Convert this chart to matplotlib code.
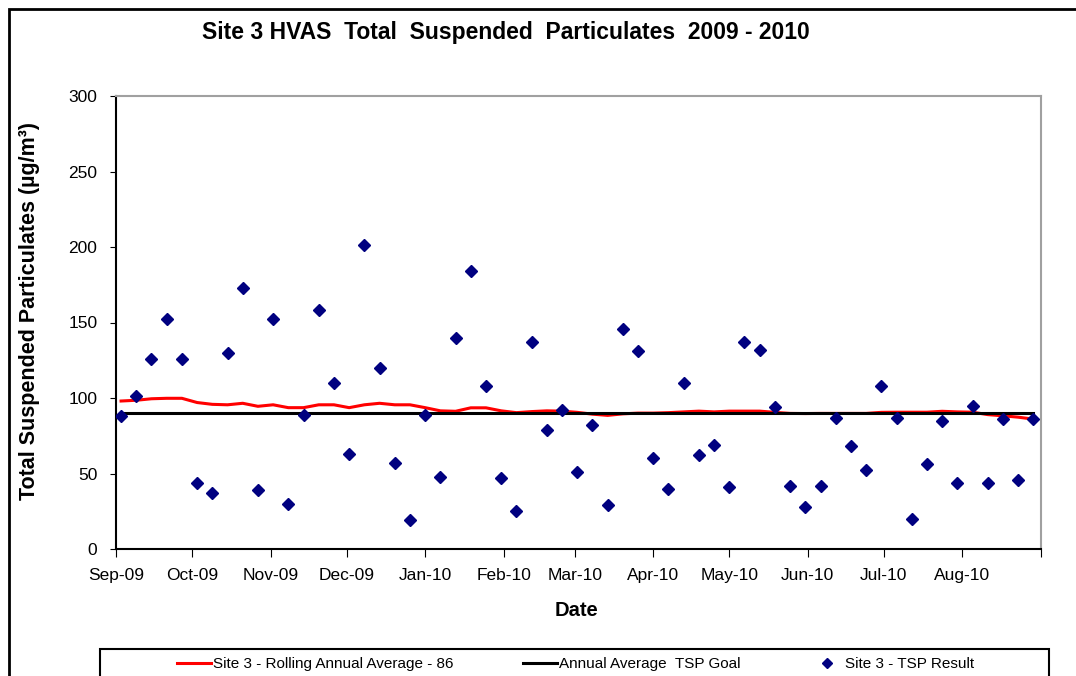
import pandas as pd
import matplotlib
matplotlib.use('Agg')
import matplotlib.pyplot as plt
from matplotlib.lines import Line2D
from matplotlib.patches import Rectangle

plt.rcParams['font.family'] = ['Liberation Sans', 'DejaVu Sans']

# HVAS samples run on a 6-day cycle, first sample 3 Sep 2009
dates = pd.date_range('2009-09-03', periods=61, freq='6D')

tsp = [88, 101, 126, 152, 126, 44, 37, 130, 173, 39, 152, 30, 89, 158, 110,
       63, 201, 120, 57, 19, 89, 48, 140, 184, 108, 47, 25, 137, 79, 92, 51,
       82, 29, 146, 131, 60, 40, 110, 62, 69, 41, 137, 132, 94, 42, 28, 42,
       87, 68, 52, 108, 87, 20, 56, 85, 44, 95, 44, 86, 46, 86]

rolling = [98, 98.5, 99.5, 99.8, 99.8, 97, 95.8, 95.5, 96.5, 94.5, 95.5, 93.6,
           93.6, 95.5, 95.5, 93.6, 95.5, 96.5, 95.5, 95.5, 93.6, 91.5, 91.2,
           93.5, 93.5, 91.5, 90.3, 91, 91.5, 91.3, 90.5, 89.3, 88.5, 89.5, 90,
           90, 90.3, 90.8, 91.3, 90.8, 91.3, 91.3, 91.3, 90.5, 89.8, 89.7, 89.8,
           89.8, 89.8, 89.8, 90.5, 90.6, 90.6, 90.6, 91.2, 90.8, 90.6, 89, 88.2,
           87.3, 86]

goal = [90] * len(dates)

month_ticks = pd.date_range('2009-09-01', '2010-09-01', freq='MS')
month_labels = ['Sep-09', 'Oct-09', 'Nov-09', 'Dec-09', 'Jan-10', 'Feb-10',
                'Mar-10', 'Apr-10', 'May-10', 'Jun-10', 'Jul-10', 'Aug-10', '']

W, H = 1076, 676
fig = plt.figure(figsize=(W / 100, H / 100), dpi=100)
ax = fig.add_axes([116 / W, 1 - 549 / H, 925 / W, 453 / H])

ax.plot(dates, rolling, color='#ff0000', lw=2.2, zorder=2)
ax.plot(dates, goal, color='black', lw=2.2, zorder=3)
ax.plot(dates, tsp, ls='none', marker='D', ms=5.8, color='#000080', zorder=4)

ax.set_xlim(month_ticks[0], month_ticks[-1])
ax.set_ylim(0, 300)
ax.set_yticks(range(0, 301, 50))
ax.set_xticks(month_ticks)
ax.set_xticklabels(month_labels)

ax.tick_params(axis='both', labelsize=12.5, direction='out', color='black')
ax.tick_params(axis='x', length=6, pad=8)
ax.tick_params(axis='y', length=4.5, pad=9)

for s in ['top', 'right']:
    ax.spines[s].set_color('#a0a0a0')
    ax.spines[s].set_linewidth(1.5)
for s in ['left', 'bottom']:
    ax.spines[s].set_color('black')
    ax.spines[s].set_linewidth(1.5)

fig.text(506 / W, 1 - 33 / H, 'Site 3 HVAS  Total  Suspended  Particulates  2009 - 2010',
         ha='center', va='center', fontsize=16.5, fontweight='bold')
fig.text(30 / W, 1 - 311 / H, 'Total Suspended Particulates (µg/m³)', rotation=90,
         ha='center', va='center', fontsize=15.5, fontweight='bold')
fig.text(577 / W, 1 - 611 / H, 'Date', ha='center', va='center',
         fontsize=14.5, fontweight='bold')

handles = [Line2D([], [], color='#ff0000', lw=2.2),
           Line2D([], [], color='black', lw=2.2),
           Line2D([], [], ls='none', marker='D', ms=5.5, color='#000080')]
labels = ['Site 3 - Rolling Annual Average - 86', 'Annual Average  TSP Goal',
          'Site 3 - TSP Result']
fig.legend(handles, labels, loc='center', bbox_to_anchor=(576 / W, 1 - 664 / H),
           ncol=3, frameon=False, fontsize=11, handlelength=2.2,
           handletextpad=0.1, columnspacing=4.6)

# legend box and outer chart border, both run past the cropped edge
fig.patches.append(Rectangle((100 / W, -0.1), 949 / W, 0.1 + 1 - 649 / H, fill=False,
                             edgecolor='black', lw=1.5, transform=fig.transFigure))
fig.patches.append(Rectangle((9 / W, -0.1), 1.2, 0.1 + 1 - 9 / H, fill=False,
                             edgecolor='black', lw=2, transform=fig.transFigure))

fig.savefig('out.png', dpi=100)
